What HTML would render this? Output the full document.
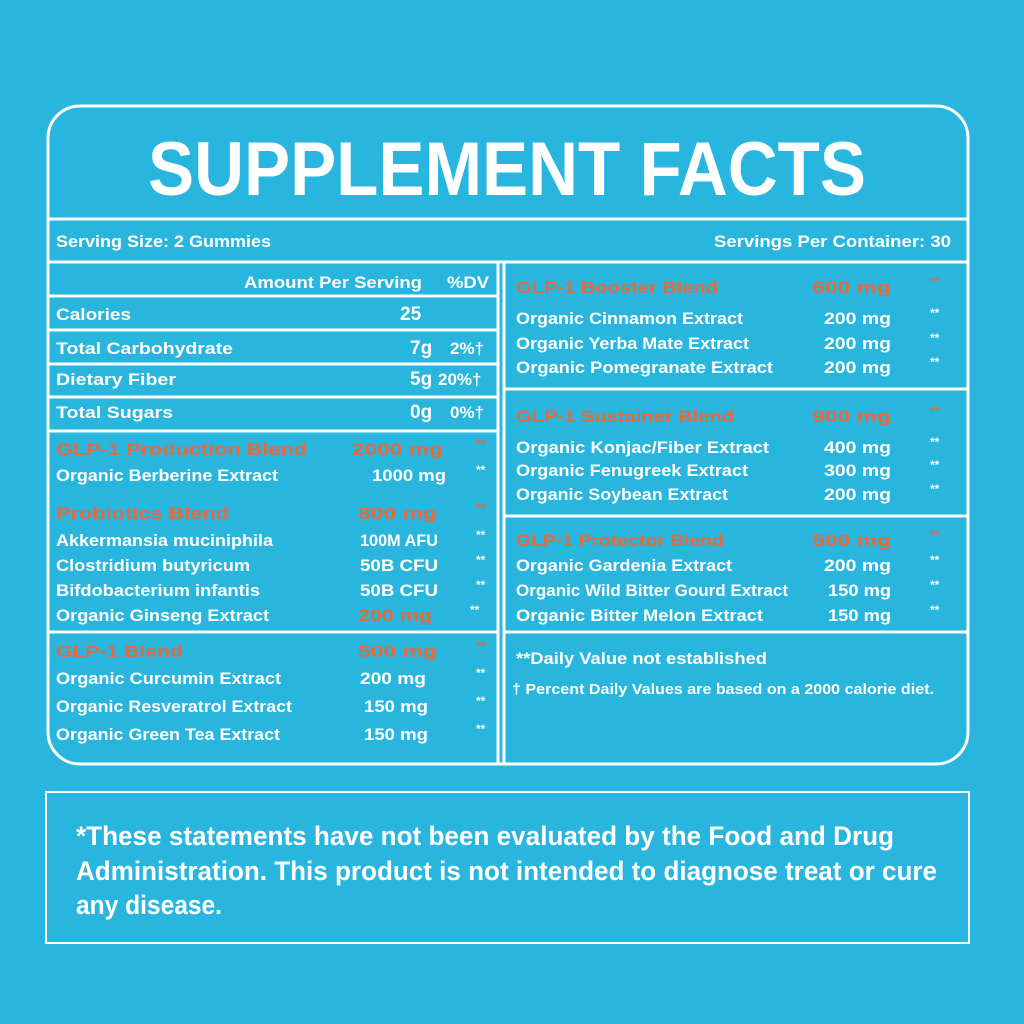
<!DOCTYPE html>
<html><head><meta charset="utf-8"><style>
html,body{margin:0;padding:0;background:#28B5DE;}
svg{display:block}
text{font-family:"Liberation Sans",sans-serif;font-weight:bold;fill:#fff}
.o{fill:#E8693A}
.s{font-size:12px}
</style></head><body>
<svg width="1024" height="1024" viewBox="0 0 1024 1024" xmlns="http://www.w3.org/2000/svg">
<rect width="1024" height="1024" fill="#28B5DE"/>
<g stroke="#fff" fill="none">
<rect x="48" y="106" width="920" height="658" rx="32" stroke-width="3"/>
<line x1="48" y1="219" x2="968" y2="219" stroke-width="3"/>
<line x1="48" y1="262" x2="968" y2="262" stroke-width="3"/>
<line x1="498" y1="262" x2="498" y2="764" stroke-width="3"/>
<line x1="504" y1="262" x2="504" y2="764" stroke-width="3"/>
<g stroke-width="3">
<line x1="48" y1="296" x2="498" y2="296"/>
<line x1="48" y1="330" x2="498" y2="330"/>
<line x1="48" y1="364" x2="498" y2="364"/>
<line x1="48" y1="397" x2="498" y2="397"/>
<line x1="48" y1="431" x2="498" y2="431"/>
<line x1="48" y1="632" x2="498" y2="632"/>
<line x1="504" y1="389" x2="968" y2="389"/>
<line x1="504" y1="516" x2="968" y2="516"/>
<line x1="504" y1="632" x2="968" y2="632"/>
</g>
<rect x="46" y="792" width="923" height="151" stroke-width="2"/>
</g>
<text x="148" y="195" font-size="76" textLength="718" lengthAdjust="spacingAndGlyphs">SUPPLEMENT FACTS</text>
<g font-size="17">
<text x="56" y="247" textLength="215" lengthAdjust="spacingAndGlyphs">Serving Size: 2 Gummies</text>
<text x="714" y="247" textLength="237" lengthAdjust="spacingAndGlyphs">Servings Per Container: 30</text>
<text x="244" y="288" textLength="178" lengthAdjust="spacingAndGlyphs">Amount Per Serving</text>
<text x="447" y="288" textLength="42" lengthAdjust="spacingAndGlyphs">%DV</text>
<text x="56" y="320" textLength="75" lengthAdjust="spacingAndGlyphs">Calories</text>
<text x="400" y="320" font-size="19">25</text>
<text x="56" y="354" textLength="177" lengthAdjust="spacingAndGlyphs">Total Carbohydrate</text>
<text x="410" y="354" font-size="19">7g</text><text x="450" y="354">2%†</text>
<text x="56" y="385" textLength="120" lengthAdjust="spacingAndGlyphs">Dietary Fiber</text>
<text x="410" y="385" font-size="19">5g</text><text x="438" y="385">20%†</text>
<text x="56" y="418" textLength="117" lengthAdjust="spacingAndGlyphs">Total Sugars</text>
<text x="410" y="418" font-size="19">0g</text><text x="450" y="418">0%†</text>

<text class="o" x="56" y="455" textLength="251" lengthAdjust="spacingAndGlyphs">GLP-1 Production Blend</text>
<text class="o" x="352" y="455" textLength="91" lengthAdjust="spacingAndGlyphs">2000 mg</text><text class="o s" x="476" y="448">**</text>
<text x="56" y="481" textLength="222" lengthAdjust="spacingAndGlyphs">Organic Berberine Extract</text>
<text x="372" y="481" textLength="74" lengthAdjust="spacingAndGlyphs">1000 mg</text><text class="s" x="476" y="474">**</text>
<text class="o" x="56" y="519" textLength="173" lengthAdjust="spacingAndGlyphs">Probiotics Blend</text>
<text class="o" x="358" y="519" textLength="79" lengthAdjust="spacingAndGlyphs">800 mg</text><text class="o s" x="476" y="512">**</text>
<text x="56" y="546" textLength="217" lengthAdjust="spacingAndGlyphs">Akkermansia muciniphila</text>
<text x="360" y="546" textLength="78" lengthAdjust="spacingAndGlyphs">100M AFU</text><text class="s" x="476" y="539">**</text>
<text x="56" y="571" textLength="194" lengthAdjust="spacingAndGlyphs">Clostridium butyricum</text>
<text x="360" y="571" textLength="78" lengthAdjust="spacingAndGlyphs">50B CFU</text><text class="s" x="476" y="564">**</text>
<text x="56" y="596" textLength="204" lengthAdjust="spacingAndGlyphs">Bifdobacterium infantis</text>
<text x="360" y="596" textLength="78" lengthAdjust="spacingAndGlyphs">50B CFU</text><text class="s" x="476" y="589">**</text>
<text x="56" y="621" textLength="213" lengthAdjust="spacingAndGlyphs">Organic Ginseng Extract</text>
<text class="o" x="358" y="621" textLength="74" lengthAdjust="spacingAndGlyphs">200 mg</text><text class="s" x="470" y="614">**</text>
<text class="o" x="56" y="657" textLength="127" lengthAdjust="spacingAndGlyphs">GLP-1 Blend</text>
<text class="o" x="358" y="657" textLength="79" lengthAdjust="spacingAndGlyphs">500 mg</text><text class="o s" x="476" y="650">**</text>
<text x="56" y="684" textLength="225" lengthAdjust="spacingAndGlyphs">Organic Curcumin Extract</text>
<text x="360" y="684" textLength="66" lengthAdjust="spacingAndGlyphs">200 mg</text><text class="s" x="476" y="677">**</text>
<text x="56" y="712" textLength="236" lengthAdjust="spacingAndGlyphs">Organic Resveratrol Extract</text>
<text x="364" y="712" textLength="64" lengthAdjust="spacingAndGlyphs">150 mg</text><text class="s" x="476" y="705">**</text>
<text x="56" y="740" textLength="224" lengthAdjust="spacingAndGlyphs">Organic Green Tea Extract</text>
<text x="364" y="740" textLength="64" lengthAdjust="spacingAndGlyphs">150 mg</text><text class="s" x="476" y="733">**</text>

<text class="o" x="516" y="293" textLength="202" lengthAdjust="spacingAndGlyphs">GLP-1 Booster Blend</text>
<text class="o" x="812" y="293" textLength="79" lengthAdjust="spacingAndGlyphs">600 mg</text><text class="o s" x="930" y="286">**</text>
<text x="516" y="324" textLength="227" lengthAdjust="spacingAndGlyphs">Organic Cinnamon Extract</text>
<text x="824" y="324" textLength="67" lengthAdjust="spacingAndGlyphs">200 mg</text><text class="s" x="930" y="317">**</text>
<text x="516" y="349" textLength="233" lengthAdjust="spacingAndGlyphs">Organic Yerba Mate Extract</text>
<text x="824" y="349" textLength="67" lengthAdjust="spacingAndGlyphs">200 mg</text><text class="s" x="930" y="342">**</text>
<text x="516" y="373" textLength="257" lengthAdjust="spacingAndGlyphs">Organic Pomegranate Extract</text>
<text x="824" y="373" textLength="67" lengthAdjust="spacingAndGlyphs">200 mg</text><text class="s" x="930" y="366">**</text>
<text class="o" x="516" y="422" textLength="218" lengthAdjust="spacingAndGlyphs">GLP-1 Sustainer Blend</text>
<text class="o" x="812" y="422" textLength="79" lengthAdjust="spacingAndGlyphs">900 mg</text><text class="o s" x="930" y="415">**</text>
<text x="516" y="453" textLength="253" lengthAdjust="spacingAndGlyphs">Organic Konjac/Fiber Extract</text>
<text x="824" y="453" textLength="67" lengthAdjust="spacingAndGlyphs">400 mg</text><text class="s" x="930" y="446">**</text>
<text x="516" y="476" textLength="232" lengthAdjust="spacingAndGlyphs">Organic Fenugreek Extract</text>
<text x="824" y="476" textLength="67" lengthAdjust="spacingAndGlyphs">300 mg</text><text class="s" x="930" y="469">**</text>
<text x="516" y="500" textLength="212" lengthAdjust="spacingAndGlyphs">Organic Soybean Extract</text>
<text x="824" y="500" textLength="67" lengthAdjust="spacingAndGlyphs">200 mg</text><text class="s" x="930" y="493">**</text>
<text class="o" x="516" y="546" textLength="208" lengthAdjust="spacingAndGlyphs">GLP-1 Protector Blend</text>
<text class="o" x="812" y="546" textLength="79" lengthAdjust="spacingAndGlyphs">500 mg</text><text class="o s" x="930" y="539">**</text>
<text x="516" y="571" textLength="216" lengthAdjust="spacingAndGlyphs">Organic Gardenia Extract</text>
<text x="824" y="571" textLength="67" lengthAdjust="spacingAndGlyphs">200 mg</text><text class="s" x="930" y="564">**</text>
<text x="516" y="596" textLength="272" lengthAdjust="spacingAndGlyphs">Organic Wild Bitter Gourd Extract</text>
<text x="828" y="596" textLength="63" lengthAdjust="spacingAndGlyphs">150 mg</text><text class="s" x="930" y="589">**</text>
<text x="516" y="621" textLength="247" lengthAdjust="spacingAndGlyphs">Organic Bitter Melon Extract</text>
<text x="828" y="621" textLength="63" lengthAdjust="spacingAndGlyphs">150 mg</text><text class="s" x="930" y="614">**</text>
<text x="516" y="664" textLength="251" lengthAdjust="spacingAndGlyphs">**Daily Value not established</text>
</g>
<text x="512" y="694" font-size="15" textLength="422" lengthAdjust="spacingAndGlyphs">† Percent Daily Values are based on a 2000 calorie diet.</text>
<g font-size="27">
<text x="76" y="845" textLength="818" lengthAdjust="spacingAndGlyphs">*These statements have not been evaluated by the Food and Drug</text>
<text x="76" y="880" textLength="861" lengthAdjust="spacingAndGlyphs">Administration. This product is not intended to diagnose treat or cure</text>
<text x="76" y="914" textLength="146" lengthAdjust="spacingAndGlyphs">any disease.</text>
</g>
</svg>
</body></html>
